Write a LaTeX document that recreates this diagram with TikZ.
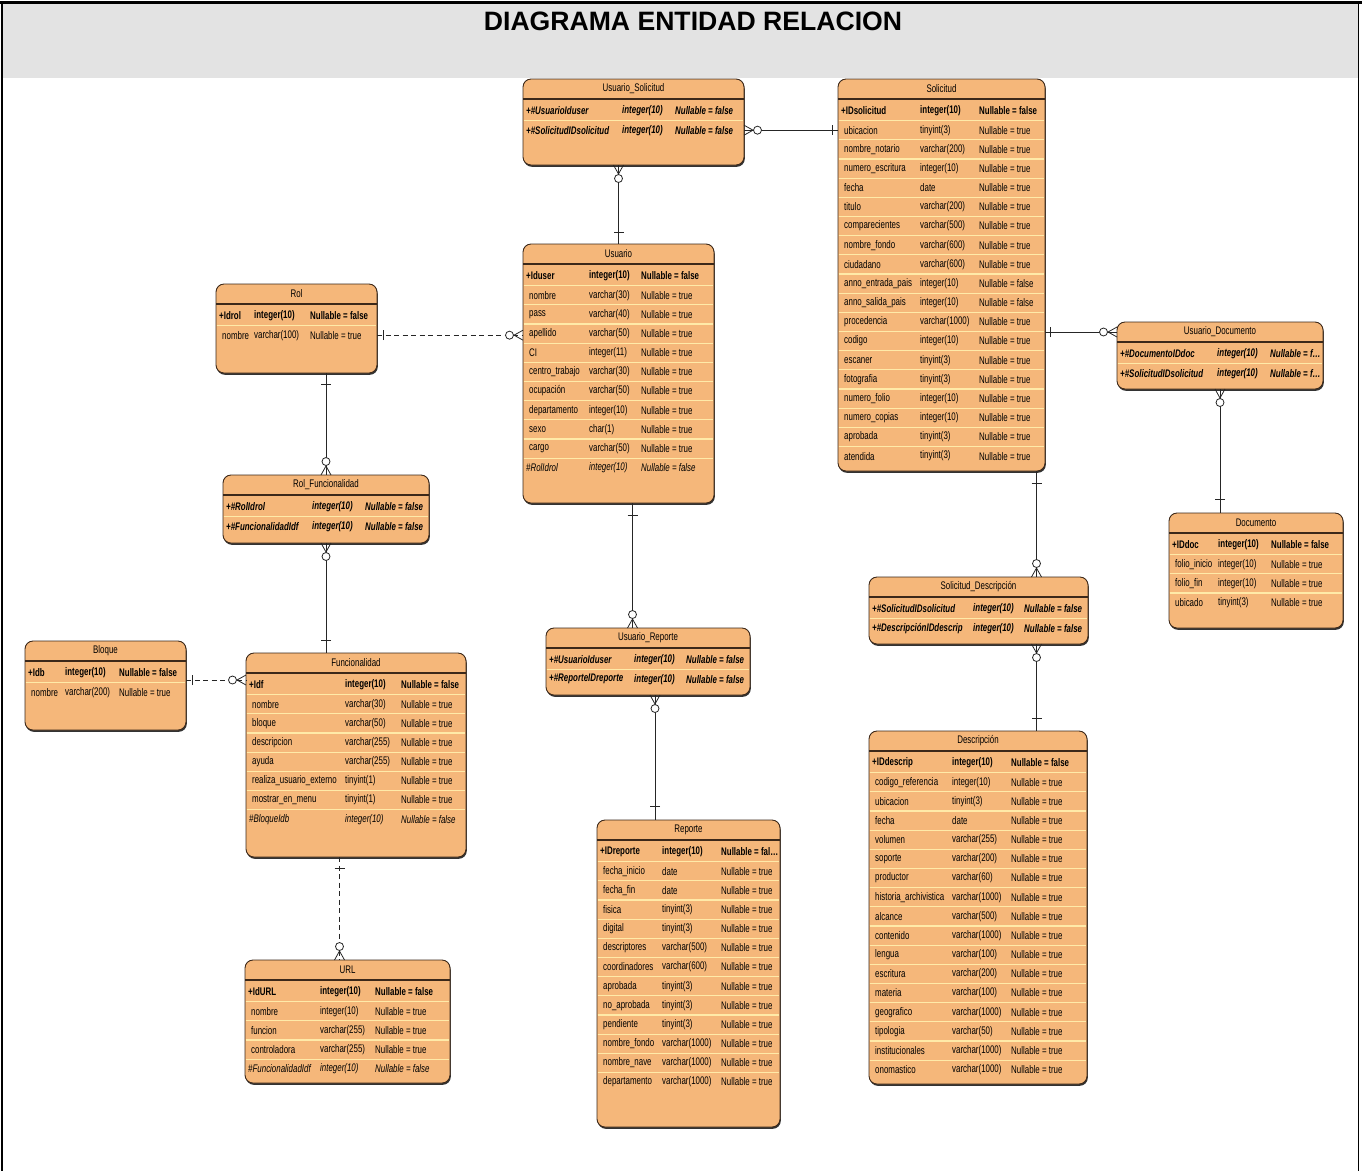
\documentclass[tikz,border=0pt]{standalone}
\usepackage{fontspec}
\setmainfont{Liberation Sans}
\newfontfamily\cellfont[FakeStretch=0.72]{Liberation Sans}
\usetikzlibrary{calc,shadows}

\definecolor{entfill}{RGB}{245,183,122}
\definecolor{entline}{RGB}{60,40,25}
\definecolor{rowline}{RGB}{255,234,168}
\definecolor{bandgray}{RGB}{227,227,227}

\tikzset{
  entbox/.style={draw=entline, line width=0.9pt, fill=entfill, rounded corners=8pt, inner sep=0pt, outer sep=0pt,
    drop shadow={shadow xshift=0.8pt, shadow yshift=-1.8pt, fill=black!80, opacity=1}},
  cell/.style={anchor=west, inner sep=0pt, font=\cellfont\fontsize{11}{13}\selectfont},
  attr/.style={cell},
  pkey/.style={cell, font=\cellfont\fontsize{11}{13}\selectfont\bfseries},
  fkey/.style={cell, font=\cellfont\fontsize{11}{13}\selectfont\itshape},
  ckey/.style={cell, font=\cellfont\fontsize{11}{13}\selectfont\bfseries\itshape},
  first attr/.style={xshift=3pt},
  first pkey/.style={}, first fkey/.style={}, first ckey/.style={},
  enttitle/.style={cell, anchor=center},
  titleline/.style={draw=entline, line width=1.2pt},
  sepline/.style={draw=rowline, line width=1.2pt},
  rel/.style={draw=black!85, line width=0.8pt},
  rel dash/.style={rel, dash pattern=on 5pt off 3.5pt},
  onebar/.pic={\draw[rel] (#1,-5) -- (#1,5);},
  zmany/.pic={\draw[rel] (0,5) -- (9,0) -- (0,-5); \draw[rel, fill=white] (13.5,0) circle (4);}
}

% #1 name, #2 top left, #3 width, #4 height, #5 title, #6 #7 column offsets, #8 rows
\newcommand{\entity}[8]{%
  \node[entbox, minimum width=#3pt, minimum height=#4pt, anchor=north west] (#1) at (#2) {};
  \node[enttitle] (#1-title) at ($(#1.north)+(0,-10)$) {#5};
  \draw[titleline] ($(#1.north west)+(0,-20)$) -- ($(#1.north east)+(0,-20)$);
  \foreach \ka/\kb/\kc/\kst [count=\ki] in {#8} {
    \ifnum\ki>1
      \draw[sepline] ($(#1.north west)+(0.6,-3.25-19.17*\ki)$) -- ($(#1.north east)+(-0.6,-3.25-19.17*\ki)$);
    \fi
    \node[\kst, first \kst] (#1-r\ki) at ($(#1.north west)+(3,-12.83-19.17*\ki)$) {\ka};
    \node[\kst] (#1-t\ki) at ($(#1.north west)+(#6,-12.83-19.17*\ki)$) {\kb};
    \node[\kst] (#1-n\ki) at ($(#1.north west)+(#7,-12.83-19.17*\ki)$) {\kc};
  }
}

\begin{document}
\begin{tikzpicture}[x=1pt, y=1pt]
		%%%%% START %%%%%
		\useasboundingbox (0,0) rectangle (1362,-1171);
		
		\fill[bandgray] (2,-4) rectangle (1358,-78);
		\node[font=\fontsize{26.6}{30}\selectfont\bfseries] (head) at (693,-21) {DIAGRAMA ENTIDAD RELACION};
		\draw[line width=3pt] (0,-2.5) -- (1362,-2.5);
		\draw[line width=1.5pt] (2,-2.5) -- (2,-1171);
		\draw[line width=1.5pt] (1358.5,-2.5) -- (1358.5,-1171);
		
		\entity{us}{523,-79}{221}{86}{Usuario\_Solicitud}{99}{152}{
			+\#UsuarioIduser/integer(10)/Nullable = false/ckey,
			+\#SolicitudIDsolicitud/integer(10)/Nullable = false/ckey}
		
		\entity{sol}{838,-79}{207}{392}{Solicitud}{82}{141}{
			+IDsolicitud/integer(10)/Nullable = false/pkey,
			ubicacion/tinyint(3)/Nullable = true/attr,
			nombre\_notario/varchar(200)/Nullable = true/attr,
			numero\_escritura/integer(10)/Nullable = true/attr,
			fecha/date/Nullable = true/attr,
			titulo/varchar(200)/Nullable = true/attr,
			comparecientes/varchar(500)/Nullable = true/attr,
			nombre\_fondo/varchar(600)/Nullable = true/attr,
			ciudadano/varchar(600)/Nullable = true/attr,
			anno\_entrada\_pais/integer(10)/Nullable = false/attr,
			anno\_salida\_pais/integer(10)/Nullable = false/attr,
			procedencia/varchar(1000)/Nullable = true/attr,
			codigo/integer(10)/Nullable = true/attr,
			escaner/tinyint(3)/Nullable = true/attr,
			fotografia/tinyint(3)/Nullable = true/attr,
			numero\_folio/integer(10)/Nullable = true/attr,
			numero\_copias/integer(10)/Nullable = true/attr,
			aprobada/tinyint(3)/Nullable = true/attr,
			atendida/tinyint(3)/Nullable = true/attr}
		
		\entity{usu}{523,-244}{191}{259}{Usuario}{66}{118}{
			+Iduser/integer(10)/Nullable = false/pkey,
			nombre/varchar(30)/Nullable = true/attr,
			pass/varchar(40)/Nullable = true/attr,
			apellido/varchar(50)/Nullable = true/attr,
			CI/integer(11)/Nullable = true/attr,
			centro\_trabajo/varchar(30)/Nullable = true/attr,
			ocupación/varchar(50)/Nullable = true/attr,
			departamento/integer(10)/Nullable = true/attr,
			sexo/char(1)/Nullable = true/attr,
			cargo/varchar(50)/Nullable = true/attr,
			\#RolIdrol/integer(10)/Nullable = false/fkey}
		
		\entity{rol}{216,-284}{161}{89}{Rol}{38}{94}{
			+Idrol/integer(10)/Nullable = false/pkey,
			nombre/varchar(100)/Nullable = true/attr}
		
		\entity{rf}{223,-475}{206}{68}{Rol\_Funcionalidad}{89}{142}{
			+\#RolIdrol/integer(10)/Nullable = false/ckey,
			+\#FuncionalidadIdf/integer(10)/Nullable = false/ckey}
		
		\entity{blo}{25,-641}{161}{89}{Bloque}{40}{94}{
			+Idb/integer(10)/Nullable = false/pkey,
			nombre/varchar(200)/Nullable = true/attr}
		
		\entity{fun}{246,-653}{220}{204}{Funcionalidad}{99}{155}{
			+Idf/integer(10)/Nullable = false/pkey,
			nombre/varchar(30)/Nullable = true/attr,
			bloque/varchar(50)/Nullable = true/attr,
			descripcion/varchar(255)/Nullable = true/attr,
			ayuda/varchar(255)/Nullable = true/attr,
			realiza\_usuario\_externo/tinyint(1)/Nullable = true/attr,
			mostrar\_en\_menu/tinyint(1)/Nullable = true/attr,
			\#BloqueIdb/integer(10)/Nullable = false/fkey}
		
		\entity{url}{245,-960}{205}{123}{URL}{75}{130}{
			+IdURL/integer(10)/Nullable = false/pkey,
			nombre/integer(10)/Nullable = true/attr,
			funcion/varchar(255)/Nullable = true/attr,
			controladora/varchar(255)/Nullable = true/attr,
			\#FuncionalidadIdf/integer(10)/Nullable = false/fkey}
		
		\entity{ur}{546,-628}{204}{67}{Usuario\_Reporte}{88}{140}{
			+\#UsuarioIduser/integer(10)/Nullable = false/ckey,
			+\#ReporteIDreporte/integer(10)/Nullable = false/ckey}
		
		\entity{rep}{597,-820}{183}{307}{Reporte}{65}{124}{
			+IDreporte/integer(10)/Nullable = fal\ldots/pkey,
			fecha\_inicio/date/Nullable = true/attr,
			fecha\_fin/date/Nullable = true/attr,
			fisica/tinyint(3)/Nullable = true/attr,
			digital/tinyint(3)/Nullable = true/attr,
			descriptores/varchar(500)/Nullable = true/attr,
			coordinadores/varchar(600)/Nullable = true/attr,
			aprobada/tinyint(3)/Nullable = true/attr,
			no\_aprobada/tinyint(3)/Nullable = true/attr,
			pendiente/tinyint(3)/Nullable = true/attr,
			nombre\_fondo/varchar(1000)/Nullable = true/attr,
			nombre\_nave/varchar(1000)/Nullable = true/attr,
			departamento/varchar(1000)/Nullable = true/attr}
		
		\entity{ud}{1117,-322}{206}{67}{Usuario\_Documento}{100}{153}{
			+\#DocumentoIDdoc/integer(10)/Nullable = f\ldots/ckey,
			+\#SolicitudIDsolicitud/integer(10)/Nullable = f\ldots/ckey}
		
		\entity{doc}{1169,-513}{174}{115}{Documento}{49}{102}{
			+IDdoc/integer(10)/Nullable = false/pkey,
			folio\_inicio/integer(10)/Nullable = true/attr,
			folio\_fin/integer(10)/Nullable = true/attr,
			ubicado/tinyint(3)/Nullable = true/attr}
		
		\entity{sd}{869,-577}{219}{67}{Solicitud\_Descripción}{104}{155}{
			+\#SolicitudIDsolicitud/integer(10)/Nullable = false/ckey,
			+\#DescripciónIDdescrip/integer(10)/Nullable = false/ckey}
		
		\entity{des}{869,-731}{218}{353}{Descripción}{83}{142}{
			+IDdescrip/integer(10)/Nullable = false/pkey,
			codigo\_referencia/integer(10)/Nullable = true/attr,
			ubicacion/tinyint(3)/Nullable = true/attr,
			fecha/date/Nullable = true/attr,
			volumen/varchar(255)/Nullable = true/attr,
			soporte/varchar(200)/Nullable = true/attr,
			productor/varchar(60)/Nullable = true/attr,
			historia\_archivistica/varchar(1000)/Nullable = true/attr,
			alcance/varchar(500)/Nullable = true/attr,
			contenido/varchar(1000)/Nullable = true/attr,
			lengua/varchar(100)/Nullable = true/attr,
			escritura/varchar(200)/Nullable = true/attr,
			materia/varchar(100)/Nullable = true/attr,
			geografico/varchar(1000)/Nullable = true/attr,
			tipologia/varchar(50)/Nullable = true/attr,
			institucionales/varchar(1000)/Nullable = true/attr,
			onomastico/varchar(1000)/Nullable = true/attr}
		
		\coordinate (bf) at ($(blo.east |- fun-r1)+(0,5)$);
		\coordinate (fu) at ($(url.north)+(-8,0)$);
		\coordinate (uu) at ($(usu.south)+(14,0)$);
		\coordinate (urx) at ($(ur.south)+(7,0)$);
		\coordinate (sx) at ($(sd.north)+(58,0)$);
		
		\draw[rel] (us.east |- us-r2) -- (sol.west |- us-r2);
		\draw[rel] (us.south -| usu.north) -- (usu.north);
		\draw[rel dash] (rol.east |- rol-r2) -- (usu.west |- rol-r2);
		\draw[rel] (rol.south -| rf.north) -- (rf.north);
		\draw[rel] (rf.south) -- (fun.north -| rf.south);
		\draw[rel dash] (bf) -- (bf -| fun.west);
		\draw[rel dash] (fu |- fun.south) -- (fu);
		\draw[rel] (uu) -- (uu |- ur.north);
		\draw[rel] (urx) -- (urx |- rep.north);
		\draw[rel] (sx |- sol.south) -- (sx);
		\draw[rel] (sx |- sd.south) -- (sx |- des.north);
		\draw[rel] (sol.east |- ud-title) -- (ud.west |- ud-title);
		\draw[rel] (ud.south) -- (doc.north -| ud.south);
		
		\pic at (us.east |- us-r2) {zmany};
		\pic[rotate=180] at (sol.west |- us-r2) {onebar=6};
		\pic[rotate=-90] at (us.south -| usu.north) {zmany};
		\pic[rotate=90] at (usu.north) {onebar=12};
		\pic at (rol.east |- rol-r2) {onebar=6};
		\pic[rotate=180] at (usu.west |- rol-r2) {zmany};
		\pic[rotate=-90] at (rol.south -| rf.north) {onebar=11};
		\pic[rotate=90] at (rf.north) {zmany};
		\pic[rotate=-90] at (rf.south) {zmany};
		\pic[rotate=90] at (fun.north -| rf.south) {onebar=13};
		\pic at (bf) {onebar=6};
		\pic[rotate=180] at (bf -| fun.west) {zmany};
		\pic[rotate=-90] at (fu |- fun.south) {onebar=11};
		\pic[rotate=90] at (fu) {zmany};
		\pic[rotate=-90] at (uu) {onebar=12};
		\pic[rotate=90] at (uu |- ur.north) {zmany};
		\pic[rotate=-90] at (urx) {zmany};
		\pic[rotate=90] at (urx |- rep.north) {onebar=14};
		\pic[rotate=-90] at (sx |- sol.south) {onebar=12};
		\pic[rotate=90] at (sx) {zmany};
		\pic[rotate=-90] at (sx |- sd.south) {zmany};
		\pic[rotate=90] at (sx |- des.north) {onebar=13};
		\pic at (sol.east |- ud-title) {onebar=5};
		\pic[rotate=180] at (ud.west |- ud-title) {zmany};
		\pic[rotate=-90] at (ud.south) {zmany};
		\pic[rotate=90] at (doc.north -| ud.south) {onebar=14};
		
		%%%%% END %%%%%
\end{tikzpicture}
\end{document}
